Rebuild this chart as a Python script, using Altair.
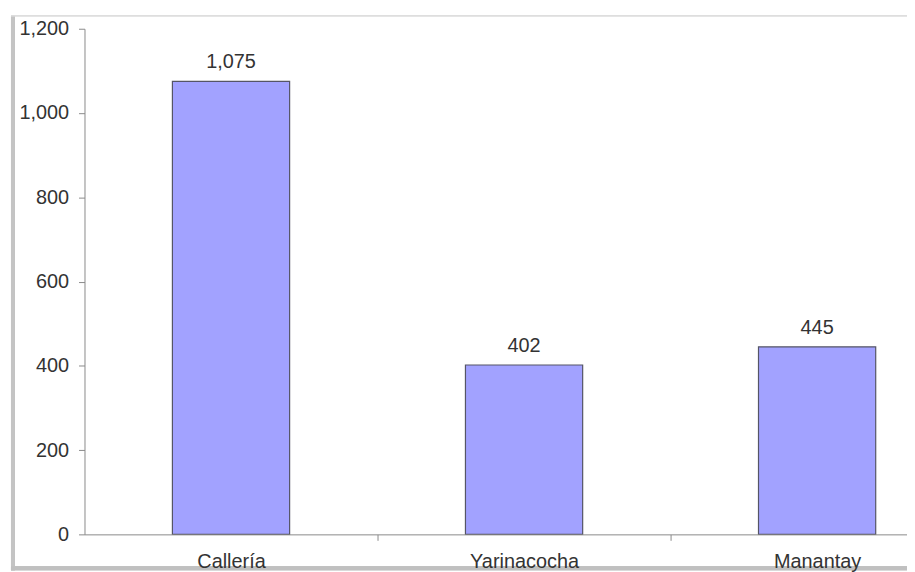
import altair as alt
import pandas as pd

categories = ["Callería", "Yarinacocha", "Manantay"]
values = [1075, 402, 445]
labels = ["1,075", "402", "445"]

df = pd.DataFrame({"cat": categories, "val": values, "lab": labels})

FONT = "Liberation Sans"
STEP = 295

x_enc = alt.X("cat:N", sort=categories, title=None,
              scale=alt.Scale(paddingInner=0.6, paddingOuter=0.3, range=[0, 885]),
              axis=alt.Axis(labelAngle=0, labelFontSize=20, labelFont=FONT,
                            labelColor="#333333", labelPadding=11, zindex=2,
                            tickOffset=STEP / 2, labelOffset=-STEP / 2,
                            domainColor="#8a8a8a", tickColor="#8a8a8a",
                            tickSize=6, grid=False))
y_enc = alt.Y("val:Q", title=None,
              scale=alt.Scale(domain=[0, 1200], nice=False),
              axis=alt.Axis(values=[0, 200, 400, 600, 800, 1000, 1200], format=",.0f",
                            labelFontSize=20, labelFont=FONT, labelColor="#333333",
                            labelPadding=10, domainColor="#8a8a8a", tickColor="#8a8a8a",
                            tickSize=6, grid=False))

bars = alt.Chart(df).mark_bar(color="#a2a2ff", stroke="#555566", strokeWidth=1.2).encode(
    x=x_enc, y=y_enc)

text = alt.Chart(df).mark_text(dy=-19, fontSize=20, font=FONT, color="#333333").encode(
    x=alt.X("cat:N", sort=categories), y="val:Q", text="lab:N")

# decorative picture frame
frame_left = alt.Chart(df).mark_rule(color="#c4c4c4", strokeWidth=4).encode(
    x=alt.value(-72), y=alt.value(-13), y2=alt.value(545))
frame_top = alt.Chart(df).mark_rule(color="#dcdcdc", strokeWidth=1).encode(
    x=alt.value(-74), x2=alt.value(900), y=alt.value(-13))
frame_bottom = alt.Chart(df).mark_rule(color="#c0c0c0", strokeWidth=4).encode(
    x=alt.value(-74), x2=alt.value(900), y=alt.value(543))

chart = (frame_left + frame_top + frame_bottom + bars + text).properties(
    width=828, height=509,
    autosize=alt.AutoSizeParams(type="none"),
    padding={"left": 77, "top": 19, "right": 0, "bottom": 36},
).configure_view(stroke=None)

chart.save("out.html", embed_options={"renderer": "svg", "actions": False})
